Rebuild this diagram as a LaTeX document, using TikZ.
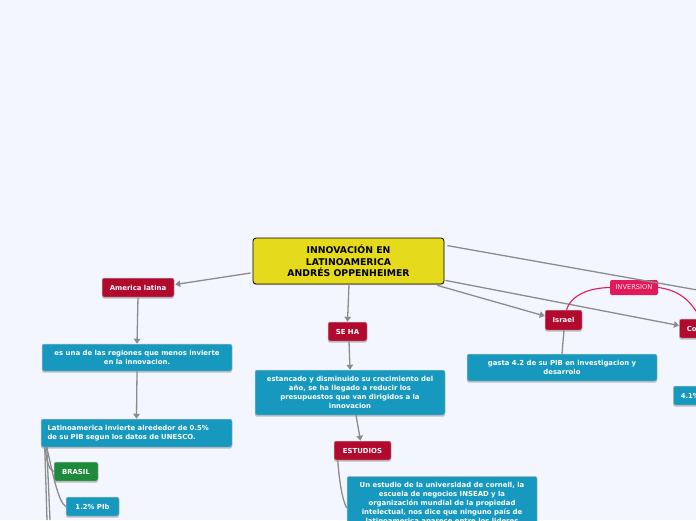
\documentclass[tikz,border=0pt]{standalone}
\usepackage{fontspec}
\setmainfont{DejaVu Sans}
\usetikzlibrary{arrows.meta,shadows}
\definecolor{bg}{HTML}{F3F6FE}
\definecolor{mred}{HTML}{B10A2E}
\definecolor{mteal}{HTML}{1799BF}
\definecolor{mgreen}{HTML}{1E8A3B}
\definecolor{myellow}{HTML}{E5DA1C}
\definecolor{mpink}{HTML}{E11B5B}
\definecolor{mgray}{HTML}{8C8C8C}
\begin{document}
\begin{tikzpicture}[x=1pt,y=-1pt,
  base/.style={rounded corners=2pt, inner sep=0pt, text=white,
    draw=white!75!black, line width=0.5pt,
    drop shadow={shadow xshift=0pt, shadow yshift=-1.6pt, fill=black!40, opacity=0.6},
    font=\bfseries\fontsize{6.9}{9}\selectfont},
  redbox/.style={base, fill=mred, minimum height=19},
  greenbox/.style={base, fill=mgreen, minimum height=19},
  tealbox/.style={base, fill=mteal},
  pinkbox/.style={rounded corners=2pt, inner sep=0pt, fill=mpink, text=white!85!mpink,
    font=\fontsize{6.7}{8}\selectfont, minimum height=15},
  titlebox/.style={rounded corners=3pt, fill=myellow, draw=black, line width=0.8pt,
    font=\bfseries\fontsize{9.3}{11.5}\selectfont, align=center, inner sep=0pt,
    drop shadow={shadow xshift=0pt, shadow yshift=-1.2pt, fill=black!40, opacity=0.5}},
  conn/.style={draw=mgray, line width=1.3pt},
  arr/.style={conn, -{Triangle[length=5pt,width=6.5pt]}},
  pinkline/.style={draw=mpink, line width=1.1pt}
]
\useasboundingbox (0,0) rectangle (696,520);
\clip (0,0) rectangle (696,520);
\fill[bg] (0,0) rectangle (696,520);

% nodes
\node[titlebox, minimum width=191, minimum height=46] (title) at (348.5,261)
  {INNOVACIÓN EN\\LATINOAMERICA\\ANDRÉS OPPENHEIMER};

\node[redbox, minimum width=72] (amer) at (138,287.5) {America latina};
\node[tealbox, minimum width=190, minimum height=27, align=center] (esuna) at (137,357.5)
  {es una de las regiones que menos invierte\\en la innovacion.};
\node[tealbox, text width=178, inner xsep=6.5, minimum height=28, align=left] (lat) at (136.5,433)
  {Latinoamerica invierte alrededor de 0.5\%\\de su PIB segun los datos de UNESCO.};
\node[greenbox, minimum width=44] (brasil) at (76,471.5) {BRASIL};
\node[tealbox, minimum width=53, minimum height=19] (pib) at (92.5,506.5) {1.2\% PIb};

\node[redbox, minimum width=39] (seha) at (347.5,331.5) {SE HA};
\node[tealbox, minimum width=190, minimum height=45, align=center] (est) at (350,392.5)
  {estancado y disminuido su crecimiento del\\año, se ha llegado a reducir los\\presupuestos que van dirigidos a la\\innovacion};
\node[redbox, minimum width=57] (estud) at (362.5,450.5) {ESTUDIOS};
\node[tealbox, anchor=north, minimum width=190, inner ysep=5.5, align=center] (unest) at (442,476)
  {Un estudio de la universidad de cornell, la\\escuela de negocios INSEAD y la\\organización mundial de la propiedad\\intelectual, nos dice que ninguno país de\\latinoamerica aparece entre los lideres\\};

\node[redbox, minimum width=37, minimum height=20] (israel) at (563.5,320) {Israel};
\node[tealbox, minimum width=190, minimum height=27, align=center] (gasta) at (562,367.5)
  {gasta 4.2 de su PIB en investigacion y\\desarrolo};
\node[pinkbox, minimum width=48] (inv) at (634,287.5) {INVERSION};
\node[redbox, anchor=west, text width=36, inner xsep=7.5, align=left] (co) at (679,328.5) {Co};
\node[tealbox, anchor=west, text width=40, inner xsep=7.5, minimum height=19, align=left] (cuatro) at (673,395.5) {4.1\%};

\coordinate (off1) at (720,294);
\coordinate (down1) at (47,520);
\coordinate (down2) at (50,520);

% connectors
\draw[arr] ([shift={(-2,12)}]title.west) -- ([shift={(1,-3)}]amer.east);
\draw[arr] (amer.south) -- (esuna.north);
\draw[arr] (esuna.south) -- (lat.north);
\draw[conn] ([shift={(4,0)}]lat.south west) .. controls (47,462) and (49,470) .. (brasil.west);
\draw[conn] ([shift={(6,0)}]lat.south west) .. controls (52,470) and (58,502) .. (pib.west);
\draw[conn] ([shift={(4,0)}]lat.south west) -- (down1);
\draw[conn] ([shift={(6,0)}]lat.south west) -- (down2);

\draw[arr] ([shift={(0.5,0)}]title.south) -- (seha.north);
\draw[arr] ([shift={(1.5,0)}]seha.south) -- (est.north);
\draw[arr] ([shift={(6,0)}]est.south) -- ([shift={(-2,0)}]estud.north);
\draw[conn] ([shift={(4,0)}]estud.south west) .. controls (339,478) and (342,500) .. ([shift={(0,32)}]unest.north west);

\draw[arr] ([shift={(-7,1)}]title.south east) -- ([shift={(0,-4)}]israel.west);
\draw[conn] ([shift={(0.5,0)}]israel.south) -- (gasta.north);
\draw[arr] ([shift={(1,-4)}]title.south east) -- ([shift={(0,-3)}]co.west);
\draw[conn] ([shift={(3,8)}]title.north east) -- (off1);

\draw[pinkline] ([shift={(3,0)}]israel.north) .. controls (572,294) and (590,288) .. (inv.west);
\draw[pinkline] (inv.east) .. controls (678,290) and (692,300) .. (702,322);
\end{tikzpicture}
\end{document}
